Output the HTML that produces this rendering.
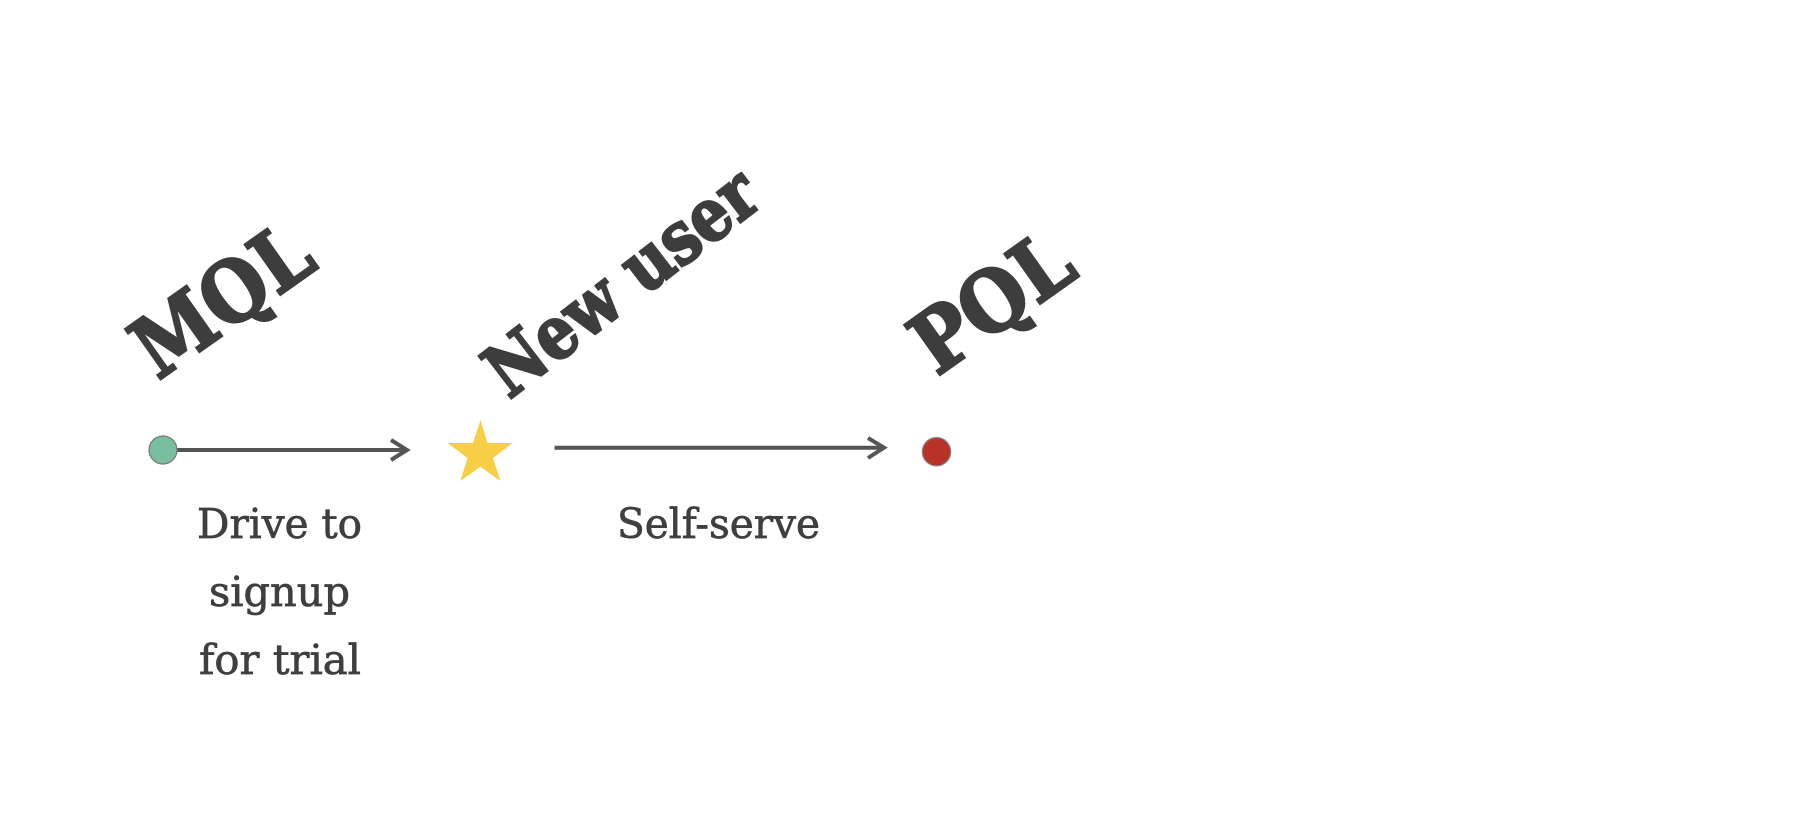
<!DOCTYPE html>
<html>
<head>
<meta charset="utf-8">
<style>
html,body{margin:0;padding:0;background:#fff;width:1798px;height:826px;overflow:hidden}
svg{display:block}
.b{font-family:"DejaVu Serif","Liberation Serif",serif;font-weight:bold;fill:#3d3d3d;stroke:#3d3d3d;stroke-width:2.6;stroke-linejoin:miter}
.r{font-family:"DejaVu Serif","Liberation Serif",serif;fill:#3f3f3f;stroke:#3f3f3f;stroke-width:.7;font-size:41px}
</style>
</head>
<body>
<svg width="1798" height="826" viewBox="0 0 1798 826" xmlns="http://www.w3.org/2000/svg">
<rect width="1798" height="826" fill="#fff"/>
<text class="b" font-size="84" transform="translate(158,381) rotate(-35.2)" textLength="198" lengthAdjust="spacingAndGlyphs">MQL</text>
<text class="b" font-size="73" transform="translate(509,400) rotate(-37.5)" textLength="322" lengthAdjust="spacingAndGlyphs">New user</text>
<text class="b" font-size="84" transform="translate(937,377) rotate(-35.4)" textLength="176" lengthAdjust="spacingAndGlyphs">PQL</text>

<line x1="177" y1="450" x2="406" y2="450" stroke="#555" stroke-width="4"/>
<polyline points="391,440 407,450 391,460" fill="none" stroke="#555" stroke-width="4"/>
<circle cx="163" cy="450" r="14" fill="#78bf9f" stroke="#777" stroke-width="1.2"/>

<polygon points="480.5,420 487.5,443 512.5,443 493,458 500.5,481 480.5,466.7 460.4,481 467.5,458 447.5,443 473,443" fill="#f8ce47"/>

<line x1="554.5" y1="447.7" x2="882" y2="447.7" stroke="#555" stroke-width="4"/>
<polyline points="868,438 884,447.7 868,458" fill="none" stroke="#555" stroke-width="4"/>
<circle cx="936.5" cy="451.7" r="14.2" fill="#b93227" stroke="#888" stroke-width="1.2"/>

<text class="r" x="197" y="538" textLength="165" lengthAdjust="spacingAndGlyphs">Drive to</text>
<text class="r" x="209" y="606" textLength="141" lengthAdjust="spacingAndGlyphs">signup</text>
<text class="r" x="199" y="674" textLength="162" lengthAdjust="spacingAndGlyphs">for trial</text>
<text class="r" x="617" y="538" textLength="203" lengthAdjust="spacingAndGlyphs">Self-serve</text>
</svg>
</body>
</html>
